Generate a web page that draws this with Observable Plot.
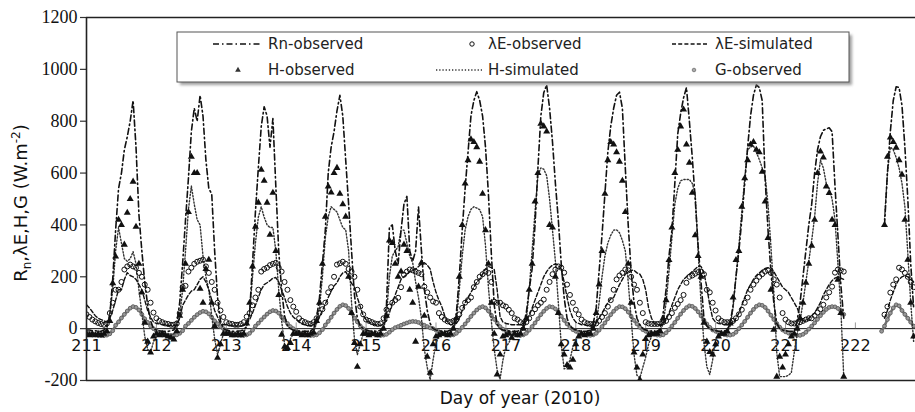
<!DOCTYPE html>
<html><head><meta charset="utf-8">
<script src="https://cdn.jsdelivr.net/npm/d3@7"></script>
<script src="https://cdn.jsdelivr.net/npm/@observablehq/plot@0.6"></script>
<style>
html,body{margin:0;padding:0;background:#fff;}
#chart{width:915px;height:412px;overflow:hidden;}
</style></head><body><div id="chart"></div>
<script>
// ---- data (hourly samples, day of year 2010, starting at day 211 hour 0) ----
const startDay = 211;
const stepsPerDay = 24;
const xTicks = [211,212,213,214,215,216,217,218,219,220,221,222];
const yTicks = [-200,0,200,400,600,800,1000,1200];
const seriesNames = ["Rn-observed","λE-observed","λE-simulated","H-observed","H-simulated","G-observed"];
const xTitle = "Day of year (2010)";
const N = null;

const rnObs = [
 -5,-5,-8,-8,-10,-10,-5,10,50,190,380,540,600,690,740,800,880,700,440,300,180,90,30,0,
 -5,-8,-10,-10,-10,-8,-5,20,100,250,420,580,760,850,800,900,820,650,540,520,300,120,30,0,
 -5,-8,-10,-10,-10,-8,-5,10,60,250,450,620,780,856,820,700,810,550,300,150,50,10,0,-5,
 -8,-10,-10,-10,-10,-8,0,40,120,250,380,600,700,760,840,900,820,650,480,300,130,40,10,0,
 -5,-8,-10,-10,-10,-5,10,90,390,400,300,250,380,480,510,300,260,300,470,300,150,70,20,0,
 -5,-8,-10,-10,-10,-5,10,60,200,380,540,680,820,880,914,880,820,700,520,290,90,15,0,-5,
 -8,-10,-10,-10,-10,-5,15,60,150,230,400,620,820,910,940,850,720,560,420,250,120,40,10,0,
 -5,-8,-10,-10,-10,-5,20,80,220,360,520,680,780,850,900,912,850,620,400,220,100,40,15,0,
 -5,-8,-10,-10,-10,0,60,150,280,380,560,750,830,890,930,800,660,500,320,180,40,10,0,-5,
 -8,-10,-10,-10,-5,20,90,200,300,420,560,700,820,900,940,930,880,580,380,220,100,20,0,-5,
 -8,-10,-10,-10,30,100,200,300,400,480,600,690,740,765,770,775,760,550,360,170,40,N,N,N,
 N,N,N,N,N,N,N,N,N,N,400,600,760,880,933,930,860,700,500,250,80,N,N,N
];
const leObs = [
 55,45,35,28,22,18,15,20,60,100,150,150,180,228,240,247,240,235,215,200,170,150,100,62,
 40,30,25,20,18,15,15,20,60,160,165,220,235,250,258,262,266,240,215,180,150,100,70,45,
 25,20,18,15,15,18,25,46,60,90,120,150,220,230,235,245,250,254,235,220,180,150,110,85,
 65,40,30,25,20,18,25,40,60,75,100,140,160,200,247,252,258,250,230,220,200,150,85,55,
 35,30,25,20,18,20,40,73,85,100,110,119,160,208,220,228,225,220,215,210,162,140,120,105,
 100,60,45,35,28,25,30,35,55,80,100,110,120,160,180,200,210,220,215,180,104,100,100,90,
 85,73,60,40,35,25,20,25,40,60,75,90,100,112,150,180,210,228,240,235,216,170,130,100,
 73,55,35,25,20,18,18,20,30,45,60,85,110,150,190,205,215,228,225,200,170,150,100,60,
 25,20,18,18,18,20,25,30,45,60,80,95,110,130,177,200,205,212,218,220,210,150,140,100,
 70,40,30,25,25,25,30,40,55,73,100,120,150,170,185,200,210,220,225,215,190,170,120,60,
 35,25,20,20,22,25,30,35,40,40,50,62,75,92,120,140,162,216,228,225,220,N,N,N,
 N,N,N,N,N,N,N,N,N,N,54,85,139,170,190,235,228,215,200,180,160,N,N,N
];
const leSim = [
 92,80,65,50,40,35,30,25,40,70,110,150,150,190,216,205,200,190,170,150,110,70,45,25,
 20,18,15,15,12,12,12,15,40,90,110,130,145,150,170,190,200,180,150,110,70,45,20,15,
 15,12,12,10,10,10,12,20,35,60,90,120,150,170,177,185,195,197,180,150,120,85,60,45,
 35,25,18,15,12,12,15,25,45,70,95,120,145,165,177,200,215,220,200,175,160,120,85,50,
 35,25,20,15,12,12,20,30,60,100,130,160,190,200,210,220,225,230,240,250,254,245,230,180,
 140,110,85,50,25,15,15,20,40,70,100,120,140,160,180,190,210,230,240,235,228,150,46,25,
 20,18,15,15,15,15,18,30,50,80,110,140,170,200,220,235,245,250,245,230,180,120,70,40,
 25,20,15,15,12,12,15,25,40,60,80,100,115,120,145,170,190,210,220,225,225,215,210,190,
 150,80,40,20,15,15,20,35,60,90,120,150,170,190,200,210,220,230,240,240,215,160,90,40,
 25,20,18,15,15,18,20,40,60,90,120,150,170,190,205,215,225,232,235,235,220,200,180,160,
 150,140,120,100,80,50,30,30,40,50,60,80,100,130,150,170,185,195,200,195,190,N,N,N,
 N,N,N,N,N,N,N,N,N,N,40,70,110,140,170,190,200,205,200,190,180,N,N,N
];
const hObs = [
 -20,-25,-20,-25,-20,-25,-20,-10,30,175,278,420,400,324,447,500,567,393,250,139,23,-50,-92,-30,
 -20,-25,-20,-25,-30,-35,-42,-10,50,150,250,450,663,600,600,154,100,230,266,100,10,-112,-60,-20,
 -20,-20,-25,-25,-20,-25,-20,20,100,240,393,486,613,570,486,362,524,300,130,-23,-70,-75,-55,-20,
 -20,-20,-25,-20,-25,-20,-15,30,100,250,432,548,525,600,620,520,480,432,200,60,-55,-147,-60,-20,
 -20,-25,-20,-20,-25,-20,0,50,340,330,250,200,220,324,300,150,100,-50,162,254,50,-108,-170,-60,
 -30,-25,-20,-20,-25,-20,0,40,200,400,560,650,730,720,700,644,520,380,250,100,-20,-177,-100,-30,
 -25,-20,-35,-20,-25,-20,0,40,150,250,490,600,790,780,760,400,390,200,60,-60,-100,-140,-150,-120,
 -60,-30,-20,-25,-20,-20,0,60,170,300,520,650,720,710,680,644,570,450,250,100,-92,-150,-197,-100,
 -40,-25,-20,-20,-20,-10,40,110,265,390,600,690,780,845,710,640,524,360,280,200,23,-50,-90,-100,
 -60,-30,-20,-20,-10,20,120,265,300,470,580,650,710,720,690,680,605,490,350,150,-4,-185,-108,-150,
 -100,-60,-30,-20,0,40,100,177,250,320,420,600,683,660,548,523,420,400,189,60,-185,N,N,N,
 N,N,N,N,N,N,N,N,N,N,400,663,737,720,698,650,594,420,266,100,-30,N,N,N
];
const hSim = [
 -20,-25,-25,-25,-25,-25,-20,0,60,150,300,390,330,270,260,270,297,250,150,60,-30,-80,-92,-50,
 -30,-25,-25,-25,-25,-25,-20,0,50,150,300,460,550,480,420,400,280,200,150,50,-40,-100,-60,-20,
 -20,-20,-20,-20,-20,-20,-15,10,60,200,330,430,470,430,400,390,390,300,150,30,-60,-70,-40,-20,
 -20,-20,-20,-20,-20,-20,-10,20,80,200,350,432,470,460,450,420,390,381,300,100,-40,-100,-60,-20,
 -20,-20,-20,-20,-20,-15,0,50,200,280,300,316,380,380,330,280,254,180,120,40,-80,-150,-197,-120,
 -55,-30,-20,-20,-20,-15,0,30,150,280,380,432,460,470,465,459,432,320,160,30,-80,-160,-195,-120,
 -70,-55,-30,-20,-20,-15,0,30,150,300,450,590,620,615,590,500,380,260,100,-60,-155,-150,-120,-70,
 -40,-25,-20,-20,-20,-15,0,20,100,200,280,330,360,380,381,370,340,300,180,40,-100,-180,-190,-150,
 -110,-60,-30,-20,-20,-10,20,100,220,350,480,540,570,575,575,575,560,520,300,100,-55,-147,-177,-120,
 -42,-25,-20,-20,-15,10,80,200,320,450,580,690,700,705,680,652,620,590,480,316,139,-92,-185,-185,
 -185,-180,-170,-92,-20,30,100,180,260,340,430,560,650,620,560,540,500,420,250,80,-185,N,N,N,
 N,N,N,N,N,N,N,N,N,N,420,600,700,690,660,620,560,470,290,100,-50,N,N,N
];
const gObs = [
 -15,-18,-22,-24,-26,-27,-27,-25,-20,-8,13,26,41,55,68,79,85,82,72,55,38,24,10,0,
 -8,-15,-20,-23,-25,-26,-26,-24,-18,-8,10,20,32,44,54,62,67,65,57,44,30,19,8,0,
 -8,-15,-20,-23,-25,-26,-26,-24,-18,-6,10,21,34,45,56,65,70,68,60,45,32,20,8,0,
 -8,-15,-20,-23,-25,-26,-26,-24,-16,-4,14,28,44,60,74,86,92,89,78,60,41,26,11,0,
 -10,-16,-20,-23,-25,-26,-25,-22,-14,-4,4,8,13,18,22,26,28,27,24,18,13,8,3,0,
 -6,-12,-18,-22,-24,-25,-24,-18,-8,5,18,32,47,60,72,81,85,80,68,52,36,22,8,-2,
 -8,-14,-19,-23,-25,-26,-24,-18,-6,8,22,38,54,67,78,85,83,76,64,48,32,18,5,-4,
 -10,-16,-20,-23,-25,-26,-24,-18,-6,8,22,38,54,67,78,85,84,77,64,48,32,18,5,-4,
 -10,-16,-20,-23,-25,-26,-24,-16,-4,10,24,40,56,70,81,88,86,78,65,49,33,18,5,-5,
 -10,-16,-20,-23,-25,-25,-22,-14,0,14,28,44,60,74,86,92,90,82,68,52,35,20,6,-5,
 -12,-17,-21,-24,-26,-26,-22,-14,-2,10,22,36,50,63,74,82,85,84,78,68,55,N,N,N,
 N,N,N,N,N,N,N,N,N,-10,10,35,60,80,92,88,70,55,40,25,10,N,N,N
];

// ---- build rows ----
const rows = arr => arr.map((v, i) => ({t: startDay + i / stepsPerDay, v: v == null ? NaN : v}));
const pts = arr => rows(arr).filter(d => !Number.isNaN(d.v));

const ink = "#111";
const rnDash = "6,3,1.5,3";
const leDash = "4,2.2";
const hDot = "1.3,1.9";
const plot = Plot.plot({
  width: 915, height: 412,
  marginLeft: 86, marginRight: 0, marginTop: 17, marginBottom: 32,
  x: {domain: [211, 222.86], axis: null},
  y: {domain: [-200, 1200], axis: null},
  style: {background: "white", fontFamily: "DejaVu Sans", color: ink},
  marks: [
    Plot.axisY(yTicks, {tickSize: 6, tickPadding: 3, fontSize: 18, fontFamily: "Liberation Serif",
      label: null, tickFormat: d => String(d), stroke: "#333", strokeWidth: 1.2}),
    Plot.ruleY([0], {stroke: ink, strokeWidth: 1}),
    Plot.ruleX(xTicks, {x: d => d, y1: 0, y2: 22, stroke: "#999", strokeWidth: 1}),
    Plot.text(xTicks, {x: d => d, y: 0, dy: 17, text: d => String(d), fontSize: 16,
      fontFamily: "DejaVu Sans", fill: ink}),
    // G-observed
    Plot.line(rows(gObs), {x: "t", y: "v", stroke: "#707070", strokeWidth: 2.6, clip: true}),
    Plot.dot(pts(gObs), {x: "t", y: "v", r: 1.9, stroke: "#5e5e5e", fill: "#999", strokeWidth: 0.9, clip: true}),
    // H-simulated
    Plot.line(rows(hSim), {x: "t", y: "v", stroke: "#333", strokeWidth: 1.4, strokeDasharray: hDot, clip: true}),
    // λE-simulated
    Plot.line(rows(leSim), {x: "t", y: "v", stroke: ink, strokeWidth: 1.4, strokeDasharray: leDash, clip: true}),
    // Rn-observed
    Plot.line(rows(rnObs), {x: "t", y: "v", stroke: ink, strokeWidth: 1.6, strokeDasharray: rnDash, clip: true}),
    // λE-observed
    Plot.dot(pts(leObs), {x: "t", y: "v", r: 2.5, stroke: ink, fill: "none", strokeWidth: 1, clip: true}),
    // H-observed
    Plot.dot(pts(hObs), {x: "t", y: "v", r: 2.6, symbol: "triangle", fill: ink, stroke: "none", clip: true}),
    // frame
    Plot.ruleX([211], {stroke: "#222", strokeWidth: 1.6}),
    Plot.ruleY([1200], {stroke: "#222", strokeWidth: 1.6}),
    Plot.ruleY([-200], {stroke: "#222", strokeWidth: 1.6}),
    Plot.text([xTitle], {frameAnchor: "bottom", dy: 23, dx: 19, text: d => d, fontSize: 17,
      fontFamily: "DejaVu Sans", fill: ink})
  ]
});
document.getElementById("chart").appendChild(plot);

// ---- y title (with subscript / superscript) ----
const svg = d3.select(plot);
const yt = svg.append("text")
  .attr("transform", "translate(27,203) rotate(-90)")
  .attr("text-anchor", "middle").attr("font-family", "DejaVu Sans")
  .attr("font-size", 18).attr("fill", ink);
yt.append("tspan").text("R");
yt.append("tspan").attr("font-size", 12).attr("dy", 4).text("n");
yt.append("tspan").attr("dy", -4).text(",λE,H,G (W.m");
yt.append("tspan").attr("font-size", 12).attr("dy", -7).text("-2");
yt.append("tspan").attr("dy", 7).text(")");

// ---- legend ----
const defs = svg.append("defs");
defs.append("filter").attr("id", "sh").append("feGaussianBlur").attr("stdDeviation", 1.6);
const lg = svg.append("g").attr("text-anchor", "start");
lg.append("rect").attr("x", 180).attr("y", 35).attr("width", 672).attr("height", 50)
  .attr("fill", "#888").attr("opacity", 0.8).attr("filter", "url(#sh)");
lg.append("rect").attr("x", 177).attr("y", 32).attr("width", 672).attr("height", 50)
  .attr("fill", "#fff").attr("stroke", "#555").attr("stroke-width", 1);
const items = [
  {name: seriesNames[0], kind: "line", dash: rnDash, x0: 213, x1: 260, tx: 268, y: 44, w: 1.6, c: ink},
  {name: seriesNames[1], kind: "circle", cx: 472, tx: 488, y: 44},
  {name: seriesNames[2], kind: "line", dash: leDash, x0: 672, x1: 708, tx: 715, y: 44, w: 1.4, c: ink},
  {name: seriesNames[3], kind: "tri", cx: 238, tx: 268, y: 70},
  {name: seriesNames[4], kind: "line", dash: hDot, x0: 436, x1: 482, tx: 488, y: 70, w: 1.4, c: "#333"},
  {name: seriesNames[5], kind: "gcircle", cx: 694, tx: 715, y: 70}
];
for (const it of items) {
  if (it.kind === "line") {
    lg.append("line").attr("x1", it.x0).attr("x2", it.x1).attr("y1", it.y).attr("y2", it.y)
      .attr("stroke", it.c).attr("stroke-width", it.w).attr("stroke-dasharray", it.dash);
  } else if (it.kind === "circle") {
    lg.append("circle").attr("cx", it.cx).attr("cy", it.y).attr("r", 2.2)
      .attr("fill", "none").attr("stroke", ink).attr("stroke-width", 1);
  } else if (it.kind === "gcircle") {
    lg.append("circle").attr("cx", it.cx).attr("cy", it.y).attr("r", 1.8)
      .attr("fill", "#aaa").attr("stroke", "#6e6e6e").attr("stroke-width", 0.8);
  } else {
    lg.append("path").attr("d", d3.symbol(d3.symbolTriangle, 14)()).attr("transform", `translate(${it.cx},${it.y})`)
      .attr("fill", "#333");
  }
  lg.append("text").attr("x", it.tx).attr("y", it.y).attr("dy", "0.35em").attr("text-anchor", "start")
    .attr("font-family", "DejaVu Sans").attr("font-size", 15).attr("fill", "#222").text(it.name);
}
</script>
</body></html>
